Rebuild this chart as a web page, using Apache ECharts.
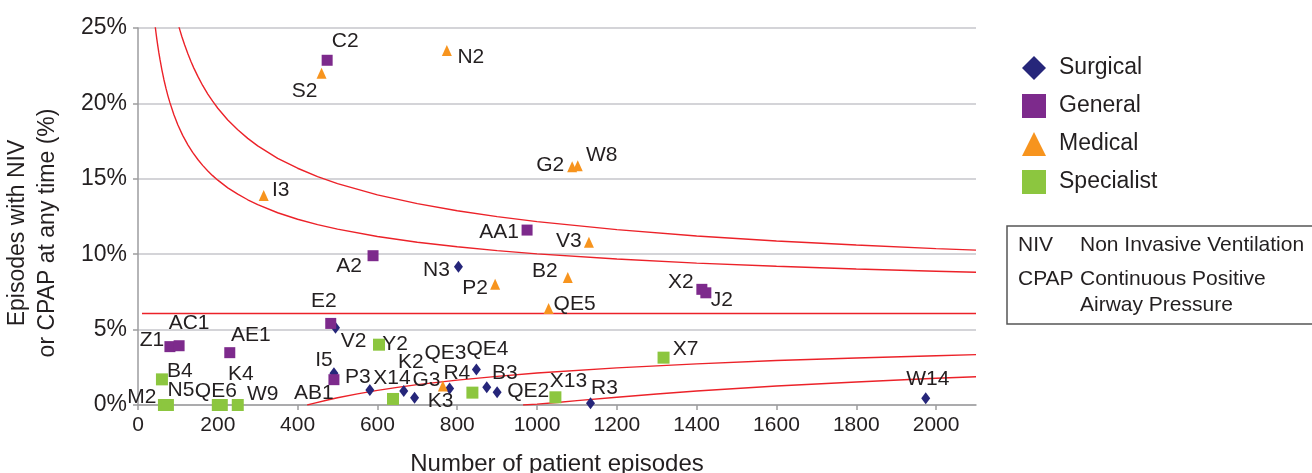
<!DOCTYPE html>
<html>
<head>
<meta charset="utf-8">
<script src="https://cdn.jsdelivr.net/npm/echarts@6/dist/echarts.min.js"></script>
<style>
html,body{margin:0;padding:0;background:#fff;}
#chart{width:1312px;height:473px;}
</style>
</head>
<body>
<div id="chart"></div>
<script>
// ---- data ----
const surgicalNames    = ['N3','V2','I5','AB1','K2','G3','K3','QE4','B3','QE2','R3','W14'];
const surgicalEpisodes = [803, 495, 491, 581, 666, 693, 781, 848, 874, 900, 1134, 1974];
const surgicalPct      = [9.17, 5.12, 2.1, 0.99, 0.93, 0.48, 1.10, 2.36, 1.17, 0.84, 0.11, 0.44];

const generalNames     = ['C2','AA1','A2','X2','J2','E2','Z1','AC1','AE1','P3'];
const generalEpisodes  = [474, 975, 589, 1413, 1423, 483, 80, 103, 230, 491];
const generalPct       = [22.86, 11.6, 9.9, 7.67, 7.44, 5.41, 3.87, 3.93, 3.47, 1.68];

const medicalNames     = ['N2','S2','G2','W8','I3','V3','B2','P2','QE5','R4'];
const medicalEpisodes  = [774, 460, 1088, 1102, 315, 1130, 1077, 895, 1029, 764];
const medicalPct       = [23.5, 22.0, 15.8, 15.86, 13.9, 10.8, 8.46, 8.0, 6.4, 1.26];

const specialistNames    = ['Y2','B4','M2','N5','QE6','K4','W9','X14','QE3','X13','X7'];
const specialistEpisodes = [604, 60, 65, 75, 200, 210, 250, 639, 838, 1046, 1317];
const specialistPct      = [4.0, 1.7, 0, 0, 0, 0, 0, 0.40, 0.82, 0.51, 3.14];

// control limit lines
const meanN   = [10, 2100];
const meanPct = [6.07, 6.07];
const upperOuterN   = [95, 100, 105, 110, 117, 125, 133, 140, 150, 162, 175, 187, 200, 225, 250, 275, 300, 350, 400, 450, 500, 600, 700, 800, 900, 1000, 1200, 1400, 1600, 1800, 2000, 2100];
const upperOuterPct = [25.82, 25.32, 24.86, 24.42, 23.87, 23.29, 22.76, 22.34, 21.79, 21.19, 20.62, 20.15, 19.68, 18.90, 18.25, 17.68, 17.18, 16.36, 15.70, 15.14, 14.68, 13.93, 13.35, 12.88, 12.49, 12.16, 11.63, 11.21, 10.88, 10.61, 10.37, 10.27];
const upperInnerN   = [40, 42, 45, 47, 50, 52, 55, 60, 65, 70, 75, 80, 90, 100, 112, 125, 137, 150, 162, 175, 187, 200, 225, 250, 275, 300, 350, 400, 450, 500, 600, 700, 800, 900, 1000, 1200, 1400, 1600, 1800, 2000, 2100];
const upperInnerPct = [25.83, 25.36, 24.70, 24.30, 23.75, 23.40, 22.93, 22.21, 21.57, 21.01, 20.50, 20.05, 19.25, 18.57, 17.88, 17.25, 16.75, 16.28, 15.89, 15.52, 15.21, 14.91, 14.40, 13.98, 13.61, 13.29, 12.75, 12.32, 11.96, 11.66, 11.17, 10.79, 10.49, 10.24, 10.02, 9.68, 9.41, 9.20, 9.02, 8.87, 8.80];
const lowerInnerN   = [424, 440, 475, 500, 550, 600, 650, 700, 800, 900, 1000, 1200, 1400, 1600, 1800, 2000, 2100];
const lowerInnerPct = [0, 0.11, 0.33, 0.48, 0.74, 0.97, 1.17, 1.35, 1.65, 1.90, 2.12, 2.46, 2.73, 2.95, 3.12, 3.27, 3.34];
const lowerOuterN   = [965, 1000, 1050, 1100, 1200, 1300, 1400, 1600, 1800, 2000, 2100];
const lowerOuterPct = [0, 0.06, 0.17, 0.29, 0.51, 0.73, 0.93, 1.26, 1.53, 1.77, 1.87];

const xTickValues = [0, 200, 400, 600, 800, 1000, 1200, 1400, 1600, 1800, 2000];

// ---- layout helpers (label placement in px relative to marker) ----
const labelOffsets = {
  C2:[18,-19], S2:[-17,18], N2:[24,7], G2:[-22,-2], W8:[24,-11], I3:[17,-5],
  AA1:[-28,2], V3:[-20,-1], A2:[-24,10], N3:[-22,3], B2:[-23,-6], P2:[-20,4],
  QE5:[26,-4], X2:[-21,-7], J2:[16,7], E2:[-7,-22], V2:[18,13], Z1:[-18,-6],
  AC1:[10,-23], AE1:[21,-17], Y2:[16,0], I5:[-10,-13], P3:[24,-2], B4:[18,-8],
  M2:[-22,-8], N5:[13,-15], QE6:[-2,-14], K4:[19,-31], W9:[25,-11], W14:[2,-19],
  X7:[22,-8], AB1:[-56,3], X14:[-1,-21], K2:[7,-29], G3:[12,-18], R4:[14,-13],
  K3:[-9,13], QE3:[-27,-39], QE4:[11,-20], B3:[18,-14], QE2:[31,-1], X13:[13,-16], R3:[14,-15]
};

const FONT = 'Liberation Sans, Arial, Helvetica, sans-serif';
const TXT = '#231f20';

function pts(names, xs, ys) {
  return names.map((nm, i) => ({
    name: nm,
    value: [xs[i], ys[i]],
    label: { offset: labelOffsets[nm] || [0, 0] }
  }));
}
function linePts(xs, ys) { return xs.map((x, i) => [x, ys[i]]); }

function scatter(name, data, symbol, size, color) {
  return {
    type: 'scatter', name: name, data: data, symbol: symbol, symbolSize: size,
    clip: false, z: 5,
    itemStyle: { color: color, opacity: 1 },
    label: { show: true, position: 'inside', formatter: '{b}', color: TXT,
             fontSize: 21, fontFamily: FONT },
    emphasis: { disabled: true }
  };
}
function limitLine(data) {
  return {
    type: 'line', data: data, showSymbol: false, symbol: 'none', silent: true,
    smooth: false, z: 2,
    lineStyle: { color: '#ec2229', width: 1.4 }
  };
}

const chart = echarts.init(document.getElementById('chart'), null, { renderer: 'canvas' });
chart.setOption({
  backgroundColor: '#ffffff',
  animation: false,
  grid: { left: 138, right: 336, top: 28, bottom: 68, containLabel: false, outerBoundsMode: 'none' },
  xAxis: {
    type: 'value', min: 0, max: 2100, interval: 200,
    name: 'Number of patient episodes', nameLocation: 'middle', nameGap: 47,
    nameTextStyle: { fontSize: 24, fontFamily: FONT, color: TXT },
    axisLine: { lineStyle: { color: '#9d9d9f', width: 1.5 } },
    axisTick: { show: true, length: 5, customValues: xTickValues, lineStyle: { color: '#9d9d9f', width: 1.5 } },
    axisLabel: { customValues: xTickValues, margin: 10, fontSize: 21, fontFamily: FONT, color: TXT,
                 formatter: v => (v > 2000 ? '' : String(v)) },
    splitLine: { show: false }
  },
  yAxis: {
    type: 'value', min: 0, max: 25, interval: 5,
    axisLine: { show: true, lineStyle: { color: '#9d9d9f', width: 1.5 } },
    axisTick: { show: true, length: 5, lineStyle: { color: '#9d9d9f', width: 1.5 } },
    axisLabel: { margin: 11, fontSize: 23, fontFamily: FONT, color: TXT, formatter: '{value}%' },
    splitLine: { show: true, lineStyle: { color: '#c6c6cb', width: 1.5 } }
  },
  legend: {
    orient: 'vertical', left: 1017, top: 51, itemWidth: 24, itemHeight: 24, itemGap: 14,
    data: ['Surgical', 'General', 'Medical', 'Specialist'],
    textStyle: { fontSize: 23, fontFamily: FONT, color: TXT, padding: [0, 0, 0, 8] },
    selectedMode: false
  },
  graphic: [
    { type: 'text', x: 33, y: 233, rotation: Math.PI / 2,
      style: { text: 'Episodes with NIV\nor CPAP at any time (%)', fontSize: 23, fontFamily: FONT,
               fill: TXT, textAlign: 'center', textVerticalAlign: 'middle', lineHeight: 30 } },
    { type: 'rect', shape: { x: 1007, y: 226, width: 320, height: 98 },
      style: { fill: 'none', stroke: '#555555', lineWidth: 1.5 } },
    { type: 'text', x: 1018, y: 245, style: { text: 'NIV', fontSize: 21, fontFamily: FONT, fill: TXT, textVerticalAlign: 'middle' } },
    { type: 'text', x: 1080, y: 245, style: { text: 'Non Invasive Ventilation', fontSize: 21, fontFamily: FONT, fill: TXT, textVerticalAlign: 'middle' } },
    { type: 'text', x: 1018, y: 279, style: { text: 'CPAP', fontSize: 21, fontFamily: FONT, fill: TXT, textVerticalAlign: 'middle' } },
    { type: 'text', x: 1080, y: 279, style: { text: 'Continuous Positive', fontSize: 21, fontFamily: FONT, fill: TXT, textVerticalAlign: 'middle' } },
    { type: 'text', x: 1080, y: 305, style: { text: 'Airway Pressure', fontSize: 21, fontFamily: FONT, fill: TXT, textVerticalAlign: 'middle' } }
  ],
  series: [
    limitLine(linePts(meanN, meanPct)),
    limitLine(linePts(upperOuterN, upperOuterPct)),
    limitLine(linePts(upperInnerN, upperInnerPct)),
    limitLine(linePts(lowerInnerN, lowerInnerPct)),
    limitLine(linePts(lowerOuterN, lowerOuterPct)),
    scatter('Surgical', pts(surgicalNames, surgicalEpisodes, surgicalPct), 'diamond', [9, 12], '#26267a'),
    scatter('General', pts(generalNames, generalEpisodes, generalPct), 'rect', 11, '#7d2a8c'),
    scatter('Medical', pts(medicalNames, medicalEpisodes, medicalPct), 'triangle', [10, 11], '#f7941e'),
    scatter('Specialist', pts(specialistNames, specialistEpisodes, specialistPct), 'rect', 12, '#8cc63f')
  ]
});
</script>
</body>
</html>
